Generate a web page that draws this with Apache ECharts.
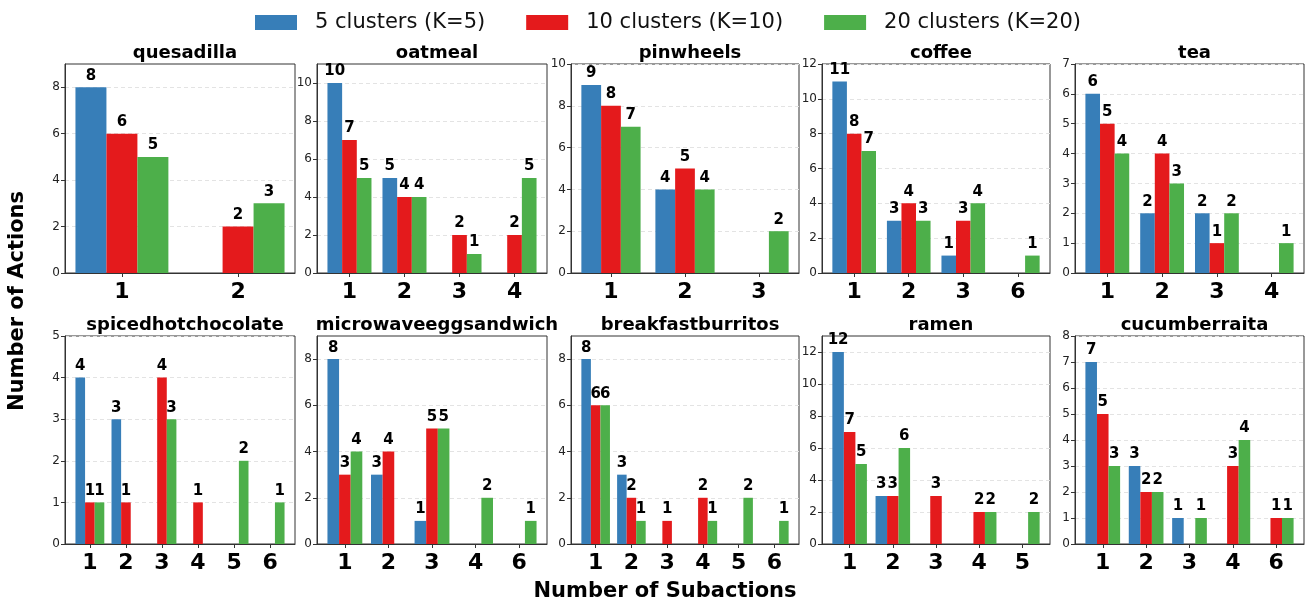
<!DOCTYPE html>
<html>
<head>
<meta charset="utf-8">
<script src="https://cdn.jsdelivr.net/npm/echarts@6/dist/echarts.min.js"></script>
<style>
html,body{margin:0;padding:0;background:#fff;}
#chart{width:1305px;height:605px;}
</style>
</head>
<body>
<div id="chart"></div>
<script>
// ---- Data ----
const seriesNames = ['5 clusters (K=5)', '10 clusters (K=10)', '20 clusters (K=20)'];
const recipeNames = ['quesadilla','oatmeal','pinwheels','coffee','tea',
  'spicedhotchocolate','microwaveeggsandwich','breakfastburritos','ramen','cucumberraita'];

const quesadillaSub = ['1','2'];
const quesadillaK5  = [8, 0];
const quesadillaK10 = [6, 2];
const quesadillaK20 = [5, 3];

const oatmealSub = ['1','2','3','4'];
const oatmealK5  = [10, 5, 0, 0];
const oatmealK10 = [7, 4, 2, 2];
const oatmealK20 = [5, 4, 1, 5];

const pinwheelsSub = ['1','2','3'];
const pinwheelsK5  = [9, 4, 0];
const pinwheelsK10 = [8, 5, 0];
const pinwheelsK20 = [7, 4, 2];

const coffeeSub = ['1','2','3','6'];
const coffeeK5  = [11, 3, 1, 0];
const coffeeK10 = [8, 4, 3, 0];
const coffeeK20 = [7, 3, 4, 1];

const teaSub = ['1','2','3','4'];
const teaK5  = [6, 2, 2, 0];
const teaK10 = [5, 4, 1, 0];
const teaK20 = [4, 3, 2, 1];

const spicedSub = ['1','2','3','4','5','6'];
const spicedK5  = [4, 3, 0, 0, 0, 0];
const spicedK10 = [1, 1, 4, 1, 0, 0];
const spicedK20 = [1, 0, 3, 0, 2, 1];

const microwaveSub = ['1','2','3','4','6'];
const microwaveK5  = [8, 3, 1, 0, 0];
const microwaveK10 = [3, 4, 5, 0, 0];
const microwaveK20 = [4, 0, 5, 2, 1];

const burritosSub = ['1','2','3','4','5','6'];
const burritosK5  = [8, 3, 0, 0, 0, 0];
const burritosK10 = [6, 2, 1, 2, 0, 0];
const burritosK20 = [6, 1, 0, 1, 2, 1];

const ramenSub = ['1','2','3','4','5'];
const ramenK5  = [12, 3, 0, 0, 0];
const ramenK10 = [7, 3, 3, 2, 0];
const ramenK20 = [5, 6, 0, 2, 2];

const raitaSub = ['1','2','3','4','6'];
const raitaK5  = [7, 3, 1, 0, 0];
const raitaK10 = [5, 2, 0, 3, 1];
const raitaK20 = [3, 2, 1, 4, 1];

const panels = [
  [quesadillaSub, quesadillaK5, quesadillaK10, quesadillaK20],
  [oatmealSub, oatmealK5, oatmealK10, oatmealK20],
  [pinwheelsSub, pinwheelsK5, pinwheelsK10, pinwheelsK20],
  [coffeeSub, coffeeK5, coffeeK10, coffeeK20],
  [teaSub, teaK5, teaK10, teaK20],
  [spicedSub, spicedK5, spicedK10, spicedK20],
  [microwaveSub, microwaveK5, microwaveK10, microwaveK20],
  [burritosSub, burritosK5, burritosK10, burritosK20],
  [ramenSub, ramenK5, ramenK10, ramenK20],
  [raitaSub, raitaK5, raitaK10, raitaK20]
];

// ---- Layout / style ----
const colors = ['#377eb8', '#e41a1c', '#4daf4a'];
const colLeft = [65, 317, 571, 822, 1075];
const colWidth = [230, 230, 228, 228, 229];
const rowTop = [64, 336];
const rowHeight = [209, 208];
const FONT = 'DejaVu Sans';

const grids = [], xAxes = [], yAxes = [], series = [], titles = [];

panels.forEach((p, i) => {
  const [subs, a, b, c] = p;
  const r = Math.floor(i / 5), col = i % 5;
  const n = subs.length;
  const allVals = a.concat(b, c);
  const ymax = Math.max(...allVals) + 1;
  const step = ymax <= 8 ? 1 : 2;
  const yTicks = [];
  for (let v = 0; v <= ymax; v += step) yTicks.push(v);
  const idx = subs.map((_, k) => k);
  const pad = 0.05 * (n - 1 + 0.8);

  grids.push({
    left: colLeft[col], top: rowTop[r], width: colWidth[col], height: rowHeight[r],
    show: true, borderColor: '#333', borderWidth: 1, backgroundColor: 'transparent'
  });
  xAxes.push({
    type: 'value', gridIndex: i,
    min: -0.4 - pad, max: (n - 1) + 0.4 + pad,
    axisLine: { show: true, onZero: false, lineStyle: { color: '#333', width: 1 } },
    axisTick: { show: true, customValues: idx, length: 4, lineStyle: { color: '#333' } },
    axisLabel: {
      customValues: idx,
      formatter: v => subs[Math.round(v)],
      fontFamily: FONT, fontSize: 22, fontWeight: 'bold', color: '#000', margin: 8
    },
    splitLine: { show: false }
  });
  yAxes.push({
    type: 'value', gridIndex: i, min: 0, max: ymax,
    axisLine: { show: true, onZero: false, lineStyle: { color: '#333', width: 1 } },
    axisTick: { show: true, customValues: yTicks, length: 4, lineStyle: { color: '#333' } },
    axisLabel: {
      customValues: yTicks, fontFamily: FONT, fontSize: 12, color: '#222', margin: 5
    },
    splitLine: { show: true, lineStyle: { color: '#e3e3e3', type: [4, 3], width: 1 } }
  });
  [a, b, c].forEach((vals, s) => {
    series.push({
      type: 'bar', name: seriesNames[s], xAxisIndex: i, yAxisIndex: i,
      data: vals.map((v, k) => [k, v]),
      barGap: '0%', barCategoryGap: '20%',
      itemStyle: { color: colors[s] },
      label: {
        show: true, position: 'top', distance: 4,
        formatter: d => (d.value[1] > 0 ? String(d.value[1]) : ''),
        fontFamily: FONT, fontSize: 15, fontWeight: 'bold', color: '#000'
      },
      emphasis: { disabled: true },
      animation: false
    });
  });
  titles.push({
    text: recipeNames[i],
    left: colLeft[col] + colWidth[col] / 2, textAlign: 'center',
    top: rowTop[r] - 25,
    textStyle: { fontFamily: FONT, fontSize: 18, fontWeight: 'bold', color: '#000' }
  });
});

const chart = echarts.init(document.getElementById('chart'), null, { renderer: 'canvas' });
chart.setOption({
  animation: false,
  title: titles,
  legend: {
    data: seriesNames, top: 7, left: 250,
    itemWidth: 42, itemHeight: 15, itemGap: 41, icon: 'rect',
    textStyle: { fontFamily: FONT, fontSize: 21, color: '#111', padding: [0, 0, 0, 13] }
  },
  grid: grids, xAxis: xAxes, yAxis: yAxes, series: series,
  graphic: [
    { type: 'text', x: 18, y: 301, rotation: Math.PI / 2,
      style: { text: 'Number of Actions', fontFamily: FONT, fontSize: 21, fontWeight: 'bold',
               fill: '#000', align: 'center', verticalAlign: 'middle' } },
    { type: 'text', x: 665, y: 592,
      style: { text: 'Number of Subactions', fontFamily: FONT, fontSize: 21, fontWeight: 'bold',
               fill: '#000', align: 'center', verticalAlign: 'middle' } }
  ]
});
</script>
</body>
</html>
